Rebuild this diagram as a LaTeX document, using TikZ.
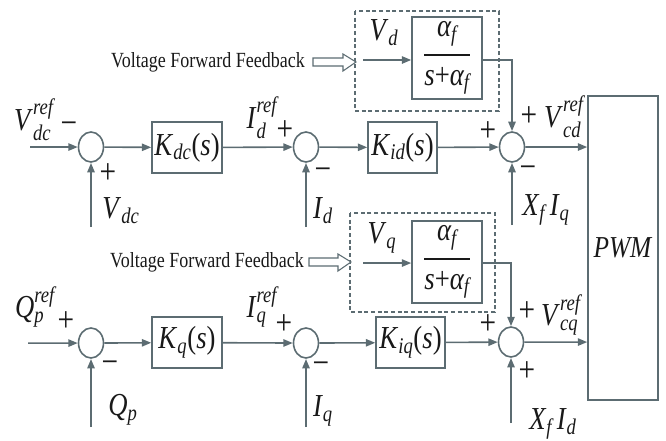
\RequirePackage{fix-cm}
\documentclass[tikz,border=0pt]{standalone}
\usepackage{amsmath}
\usepackage{fontspec}
\setmainfont{Liberation Serif}
\usetikzlibrary{arrows.meta,calc}
\definecolor{lc}{RGB}{92,108,114}
\definecolor{tc}{RGB}{25,25,25}
\newcommand\sy[2]{\textit{#1}\ensuremath{_{\textit{#2}}}}
\newcommand\syr[2]{\textit{#1}\ensuremath{^{\textit{ref}}_{\textit{#2}}}}
\newcommand\fracaf{\ensuremath{\genfrac{}{}{1.6pt}{0}{\textit{α}_{\textit{f}}}{\textit{s}{\textrm{+}}\textit{α}_{\textit{f}}}}}
\begin{document}
\begin{tikzpicture}[x=0.75pt,y=-0.625pt,yscale=1.2,
  ln/.style={draw=lc, line width=1.2pt},
  arr/.style={ln, -{Triangle[length=7pt,width=5.5pt]}},
  sumn/.style={circle, draw=lc, line width=1.2pt, minimum size=18.75pt, inner sep=0pt, transform shape},
  blk/.style={rectangle, draw=lc, line width=1.2pt, inner sep=0pt, transform shape, text=tc, font=\fontsize{20}{23}\selectfont},
  lab/.style={inner sep=0pt, transform shape, text=tc, font=\fontsize{20}{23}\selectfont},
  sg/.style={inner sep=0pt, transform shape, text=tc, font=\fontsize{22}{24}\selectfont},
  vff/.style={inner sep=0pt, transform shape, text=tc, font=\fontsize{13.5}{15}\selectfont},
  dbox/.style={draw=lc, line width=0.9pt, dash pattern=on 3pt off 2pt},
  hollow/.style={draw=lc, line width=0.8pt, fill=white}]
\useasboundingbox (0,0) rectangle (666,441);

% ---------- top loop ----------
\node[sumn] (s1) at (91,147) {};
\node[blk, minimum width=52.5pt, minimum height=31.9pt] (kdc) at (187,147.5) {\sy{K}{dc}(\textit{s})};
\node[sumn] (s2) at (306,147) {};
\node[blk, minimum width=51.75pt, minimum height=31.9pt] (kid) at (402.5,147.5) {\sy{K}{id}(\textit{s})};
\node[sumn] (s3) at (512,147) {};
\node[blk, minimum width=52.5pt, minimum height=190pt, font=\fontsize{19}{21}\selectfont] (pwm) at (623,248) {\textit{PWM}};
\draw[dbox] (355,11) rectangle (499,111);
\node[blk, minimum width=52.5pt, minimum height=51.25pt] (f1) at (447,58) {\fracaf};

\coordinate (in1) at (30,147);
\coordinate (b1) at (91,227);
\coordinate (b2) at (306,227);
\coordinate (b3) at (512,225);
\coordinate (vd) at (363,60);
\draw[arr] (in1) -- (s1);
\draw[arr] (s1) -- (kdc);
\draw[arr] (kdc) -- (s2);
\draw[arr] (s2) -- (kid);
\draw[arr] (kid) -- (s3);
\draw[arr] (s3) -- (s3 -| pwm.west);
\draw[arr] (b1) -- (s1);
\draw[arr] (b2) -- (s2);
\draw[arr] (b3) -- (s3);
\draw[arr] (vd) -- (vd -| f1.west);
\draw[arr] (f1.east |- vd) -| (s3);

\node[lab] (lvdcref) at (34,120) {\syr{V}{dc}};
\node[sg] (m1a) at (69,128) {−};
\node[sg] (p1a) at (108,174) {+};
\node[lab] (lidref) at (262,118) {\syr{I}{d}};
\node[sg] (p2a) at (285,131) {+};
\node[sg] (m2a) at (323,174) {−};
\node[lab] (lvdc) at (121,211) {\sy{V}{dc}};
\node[lab] (lid) at (323,211) {\sy{I}{d}};
\node[sg] (p3a) at (488,132) {+};
\node[sg] (p3b) at (529,117) {+};
\node[sg] (m3a) at (528,172) {−};
\node[lab] (lvcd) at (564,117) {\syr{V}{cd}};
\node[lab] (lxiq) at (546,210) {\sy{X}{f}\,\sy{I}{q}};
\node[lab] (lvd) at (384,33) {\sy{V}{d}};
\node[vff] (vff1) at (208,62) {Voltage Forward Feedback};
\draw[hollow] (313,58) -- (343,58) -- (343,54) -- (356,62) -- (343,71) -- (343,66) -- (313,66) -- cycle;

% ---------- bottom loop ----------
\node[sumn] (t1) at (91,343) {};
\node[blk, minimum width=52.5pt, minimum height=31.9pt] (kq) at (187,342.5) {\sy{K}{q}(\textit{s})};
\node[sumn] (t2) at (306,343) {};
\node[blk, minimum width=51.75pt, minimum height=31.9pt] (kiq) at (410.5,342.5) {\sy{K}{iq}(\textit{s})};
\node[sumn] (t3) at (511,342) {};
\draw[dbox] (350,213) rectangle (495,312);
\node[blk, minimum width=52.5pt, minimum height=51.25pt] (f2) at (447,262) {\fracaf};

\coordinate (in2) at (28,343);
\coordinate (c1) at (91,427);
\coordinate (c2) at (306,427);
\coordinate (c3) at (511,423);
\coordinate (vq) at (363,263);
\draw[arr] (in2) -- (t1);
\draw[arr] (t1) -- (kq);
\draw[arr] (kq) -- (t2);
\draw[arr] (t2) -- (kiq);
\draw[arr] (kiq) -- (t3);
\draw[arr] (t3) -- (t3 -| pwm.west);
\draw[arr] (c1) -- (t1);
\draw[arr] (c2) -- (t2);
\draw[arr] (c3) -- (t3);
\draw[arr] (vq) -- (vq -| f2.west);
\draw[arr] (f2.east |- vq) -| (t3);

\node[lab] (lqpref) at (35,307) {\syr{Q}{p}};
\node[sg] (p4a) at (66,322) {+};
\node[sg] (m4a) at (110,367) {−};
\node[lab] (liqref) at (262,307) {\syr{I}{q}};
\node[sg] (p5a) at (284,325) {+};
\node[sg] (m5a) at (321,368) {−};
\node[lab] (lqp) at (123,410) {\sy{Q}{p}};
\node[lab] (liq) at (323,411) {\sy{I}{q}};
\node[sg] (p6a) at (488,325) {+};
\node[sg] (p6b) at (527,312) {+};
\node[sg] (p6c) at (527,372) {+};
\node[lab] (lvcq) at (561,315) {\syr{V}{cq}};
\node[lab] (lxid) at (553,424) {\sy{X}{f}\,\sy{I}{d}};
\node[lab] (lvq) at (382,238) {\sy{V}{q}};
\node[vff] (vff2) at (207,262) {Voltage Forward Feedback};
\draw[hollow] (309,258) -- (338,258) -- (338,254) -- (351,262) -- (338,271) -- (338,266) -- (309,266) -- cycle;
\end{tikzpicture}
\end{document}
